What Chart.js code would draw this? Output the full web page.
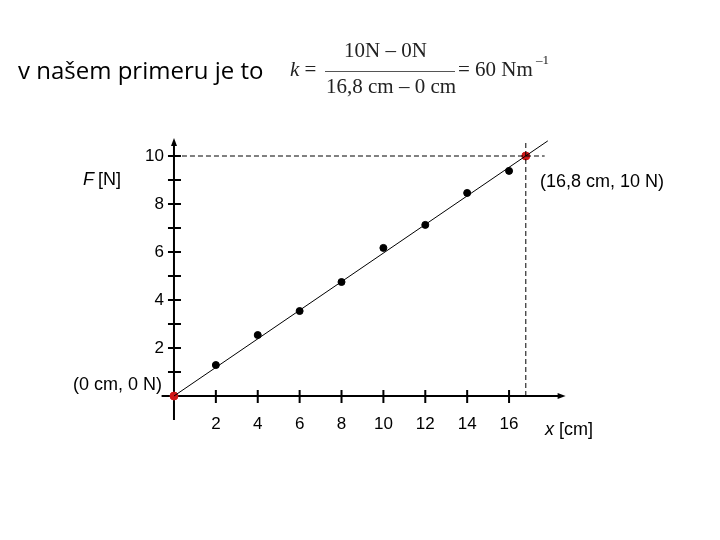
<!DOCTYPE html>
<html>
<head>
<meta charset="utf-8">
<script src="https://cdn.jsdelivr.net/npm/chart.js@4"></script>
<style>
  body { margin: 0; background: #fff; }
  #wrap { position: relative; width: 720px; height: 540px; }
  .txt { position: absolute; white-space: nowrap; color: #000; line-height: 1; }
  .title { left: 18px; top: 58px; font-family: "Open Sans"; font-size: 24px; }
  .math { font-family: "Liberation Serif"; font-size: 21px; color: #222; }
</style>
</head>
<body>
<div id="wrap">
  <canvas id="chart" width="720" height="540"></canvas>
  <div class="txt title">v našem primeru je to</div>
  <div class="txt math" style="left:290px;top:59px"><i>k</i> =</div>
  <div class="txt math" style="left:344px;top:40px">10N – 0N</div>
  <div class="txt" style="left:325px;top:71px;width:130px;height:1px;background:#555"></div>
  <div class="txt math" style="left:326px;top:76px">16,8 cm – 0 cm</div>
  <div class="txt math" style="left:458px;top:59px">= 60 Nm</div>
  <div class="txt math" style="left:536px;top:53px;font-size:13px">–1</div>
</div>
<script>
// measured values
const xValues = [2, 4, 6, 8, 10, 12, 14, 16];
const forceValues = [1.29, 2.54, 3.54, 4.75, 6.17, 7.13, 8.46, 9.38];

// chosen points (0 cm, 0 N) and (16,8 cm, 10 N)
const keyX = [0, 16.8];
const keyY = [0, 10];

// drawn line through the points
const fitX = [0, 17.85];
const fitY = [0, 10.63];

// tick labels
const xTicks = [2, 4, 6, 8, 10, 12, 14, 16];
const yTicks = [2, 4, 6, 8, 10];
const yMinorTicks = [1, 3, 5, 7, 9];

const pts = (xs, ys) => xs.map((x, i) => ({ x: x, y: ys[i] }));

// draws the crossing axes, ticks and labels
const axesPlugin = {
    id: 'axes',
    beforeDatasetsDraw(chart) {
        const c = chart.ctx;
        const xs = chart.scales.x, ys = chart.scales.y;
        const x0 = xs.getPixelForValue(0), y0 = ys.getPixelForValue(0);
        const area = chart.chartArea;
        c.save();
        c.strokeStyle = '#000';
        c.fillStyle = '#000';
        c.lineWidth = 2;

        // x axis
        c.beginPath();
        c.moveTo(area.left - 4, y0);
        c.lineTo(area.right - 4, y0);
        c.stroke();
        c.beginPath();
        c.moveTo(area.right, y0);
        c.lineTo(area.right - 8, y0 - 3);
        c.lineTo(area.right - 8, y0 + 3);
        c.fill();

        // y axis
        c.beginPath();
        c.moveTo(x0, area.bottom);
        c.lineTo(x0, area.top + 4);
        c.stroke();
        c.beginPath();
        c.moveTo(x0, area.top);
        c.lineTo(x0 - 3, area.top + 8);
        c.lineTo(x0 + 3, area.top + 8);
        c.fill();

        // ticks
        c.beginPath();
        xTicks.forEach(v => {
            const px = xs.getPixelForValue(v);
            c.moveTo(px, y0 - 6);
            c.lineTo(px, y0 + 7);
        });
        yTicks.concat(yMinorTicks).forEach(v => {
            const py = ys.getPixelForValue(v);
            c.moveTo(x0 - 6, py);
            c.lineTo(x0 + 7, py);
        });
        c.stroke();

        // tick labels
        c.font = '17px "Liberation Sans"';
        c.textBaseline = 'middle';
        c.textAlign = 'center';
        xTicks.forEach(v => c.fillText(String(v), xs.getPixelForValue(v), y0 + 28));
        c.textAlign = 'right';
        yTicks.forEach(v => c.fillText(String(v), x0 - 10, ys.getPixelForValue(v)));

        // axis titles
        c.textAlign = 'left';
        c.font = 'italic 18px "Liberation Sans"';
        c.fillText('F', 83, 180);
        c.fillText('x', 545, 430);
        c.font = '18px "Liberation Sans"';
        c.fillText(' [N]', 93, 180);
        c.fillText(' [cm]', 554, 430);

        // point annotations
        c.fillText('(0 cm, 0 N)', 73, 385);
        c.fillText('(16,8 cm, 10 N)', 540, 182);
        c.restore();
    }
};

new Chart(document.getElementById('chart'), {
    type: 'scatter',
    data: {
        datasets: [
            {
                // dashed guide lines to the chosen point
                data: [{ x: 0, y: keyY[1] }, { x: 17.7, y: keyY[1] }],
                showLine: true,
                borderColor: '#000',
                borderWidth: 1,
                borderDash: [5, 3],
                pointRadius: 0
            },
            {
                data: [{ x: keyX[1], y: 0 }, { x: keyX[1], y: 10.55 }],
                showLine: true,
                borderColor: '#000',
                borderWidth: 1,
                borderDash: [5, 3],
                pointRadius: 0
            },
            {
                data: pts(fitX, fitY),
                showLine: true,
                borderColor: '#000',
                borderWidth: 1,
                pointRadius: 0
            },
            {
                data: pts(xValues, forceValues),
                backgroundColor: '#000',
                borderColor: '#000',
                pointRadius: 3.5
            },
            {
                data: pts(keyX, keyY),
                backgroundColor: '#d01818',
                borderColor: '#d01818',
                pointRadius: 4
            }
        ]
    },
    options: {
        responsive: false,
        animation: false,
        clip: false,
        layout: { padding: { left: 165.6, right: 154.4, top: 138, bottom: 120 } },
        plugins: {
            legend: { display: false },
            tooltip: { enabled: false }
        },
        scales: {
            x: { type: 'linear', min: -0.4, max: 18.7, display: false },
            y: { type: 'linear', min: -1, max: 10.75, display: false }
        }
    },
    plugins: [axesPlugin]
});
</script>
</body>
</html>
